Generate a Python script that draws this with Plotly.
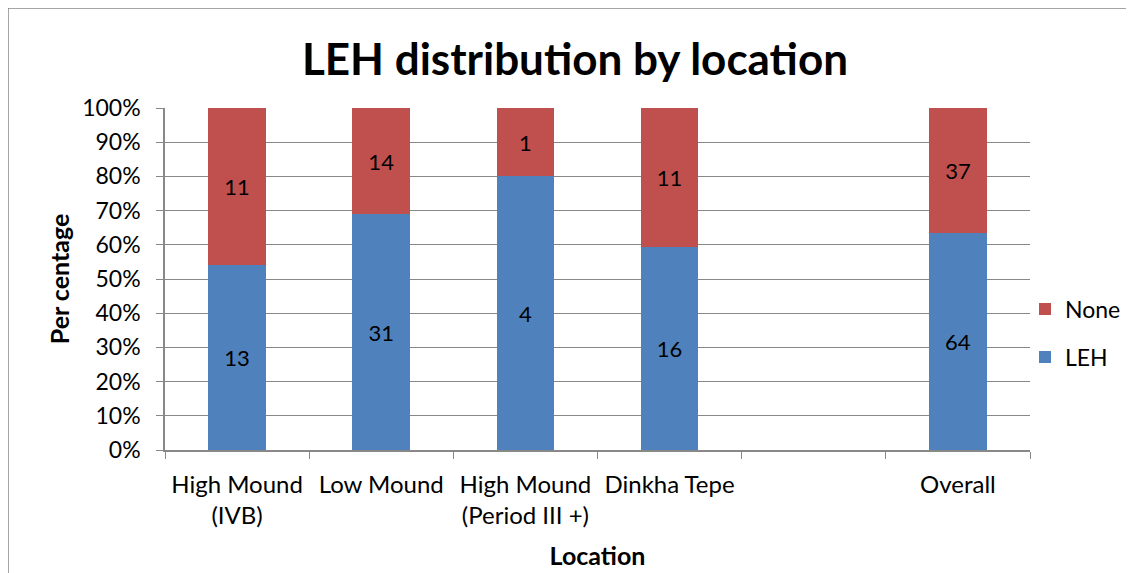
import plotly.graph_objects as go

categories = ["High Mound<br>(IVB)", "Low Mound", "High Mound<br>(Period III +)", "Dinkha Tepe", " ", "Overall"]
leh = [13, 31, 4, 16, None, 64]
none_ = [11, 14, 1, 11, None, 37]

FONT = "Lato"
W, H = 1126, 565
L, R, T, B = 157, 104, 100, 123
fig = go.Figure()
fig.add_trace(go.Bar(x=categories, y=leh, name="LEH", marker_color="#4F81BD",
                     legendgroup="b", legendrank=2,
                     text=[("" if v is None else str(v)) for v in leh], textposition="inside",
                     insidetextanchor="middle", textfont=dict(color="black", size=22, family=FONT),
                     width=0.4, marker_line_width=0))
fig.add_trace(go.Bar(x=categories, y=none_, name="None", marker_color="#C0504D",
                     legendgroup="a", legendrank=1,
                     text=[("" if v is None else str(v)) for v in none_], textposition="inside",
                     insidetextanchor="middle", textfont=dict(color="black", size=22, family=FONT),
                     width=0.4, marker_line_width=0))

pw = W - L - R
ph = H - T - B
fig.update_layout(
    barmode="stack", barnorm="percent",
    width=W, height=H,
    margin=dict(l=L, r=R, t=T, b=B, autoexpand=False),
    paper_bgcolor="white", plot_bgcolor="white",
    font=dict(family=FONT, size=22, color="black"),
    title=dict(text="<b>LEH distribution by location</b>", x=(575 - 8) / W, xanchor="center",
               y=1 - 52 / H, yanchor="middle", font=dict(size=44, family=FONT, color="black")),
    legend=dict(x=1 - 5 / pw, y=0.342, xanchor="left", yanchor="middle", traceorder="grouped",
                tracegroupgap=15, font=dict(size=23, family=FONT), itemwidth=30,
                bgcolor="rgba(0,0,0,0)"),
    uniformtext=dict(mode=False),
)
fig.add_shape(type="rect", xref="paper", yref="paper",
              x0=(0 - L) / pw, x1=1.3,
              y0=-0.5, y1=1 + (T - 0) / ph,
              line=dict(color="#888888", width=1.5))

fig.update_xaxes(type="category", showline=True, linecolor="#888888", linewidth=1.5,
                 ticks="outside", tickson="boundaries", ticklen=7, tickcolor="#888888",
                 ticklabelstandoff=12, automargin=False,
                 showgrid=False, tickfont=dict(size=24, family=FONT),
                 title=dict(text="<b>Location</b>", font=dict(size=25, family=FONT), standoff=20))
fig.update_yaxes(range=[0, 100], tickvals=list(range(0, 101, 10)),
                 ticktext=[f"{v}%" for v in range(0, 101, 10)],
                 showline=True, linecolor="#888888", linewidth=1.5,
                 ticks="outside", ticklen=7, tickcolor="#888888", ticklabelstandoff=11,
                 automargin=False,
                 showgrid=True, gridcolor="#888888", gridwidth=1.2,
                 tickfont=dict(size=23, family=FONT),
                 title=dict(text="<b>Per centage</b>", font=dict(size=25, family=FONT), standoff=5))

fig.write_html("out.html")
